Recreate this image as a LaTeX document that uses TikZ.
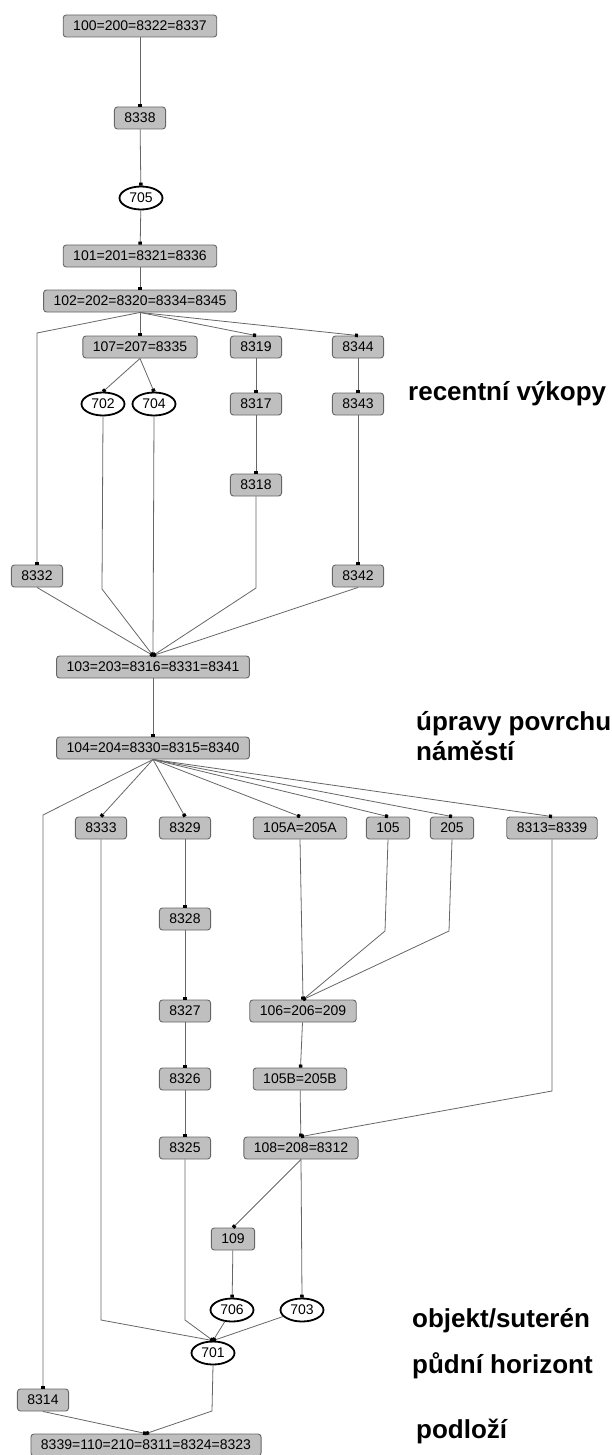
\documentclass[tikz,border=0pt]{standalone}
\usepackage{fontspec}
\setmainfont{Liberation Sans}
\usetikzlibrary{positioning,arrows.meta,shapes.geometric}

\begin{document}
\begin{tikzpicture}[
  x=1pt, y=-1pt,
  unit/.style={rectangle, draw=black!60, line width=0.9pt, rounded corners=3pt, fill=black!25, minimum height=22pt, inner xsep=10pt, inner ysep=0pt, font=\fontsize{14}{16}\selectfont},
  pit/.style={ellipse, draw=black, line width=1.8pt, fill=white, minimum width=43pt, minimum height=23pt, inner sep=0pt, font=\fontsize{14}{16}\selectfont},
  link/.style={draw=black!60, line width=0.8pt, -{Square[length=3pt,width=3.5pt,black]}},
  layer/.style={anchor=base west, inner sep=0pt, font=\fontsize{26}{30}\bfseries}
]
\useasboundingbox (0,0) rectangle (612,1455);

% Top chain
\node[unit] (n100) at (140,26) {100=200=8322=8337};
\node[unit] (n8338) at (140,118) {8338};
\node[pit] (o705) at (141,198) {705};
\node[unit] (n101) at (140,256) {101=201=8321=8336};
\node[unit] (n102) at (140,301) {102=202=8320=8334=8345};

% Recent pits
\node[unit] (n107) at (140,347) {107=207=8335};
\node[unit] (n8319) at (256,347) {8319};
\node[unit] (n8344) at (358,347) {8344};
\node[pit] (o702) at (103,404) {702};
\node[pit] (o704) at (154,404) {704};
\node[unit] (n8317) at (256,404) {8317};
\node[unit] (n8343) at (358,404) {8343};
\node[unit] (n8318) at (256,485) {8318};
\node[unit] (n8332) at (37,576) {8332};
\node[unit] (n8342) at (358,576) {8342};

% Square surface
\node[unit] (n103) at (153,667) {103=203=8316=8331=8341};
\node[unit] (n104) at (153,748) {104=204=8330=8315=8340};
\node[unit] (n8333) at (101,828) {8333};
\node[unit] (n8329) at (185,828) {8329};
\node[unit] (n105A) at (300,828) {105A=205A};
\node[unit] (n105) at (388,828) {105};
\node[unit] (n205) at (452,828) {205};
\node[unit] (n8313) at (552,828) {8313=8339};
\node[unit] (n8328) at (185,919) {8328};
\node[unit] (n8327) at (185,1011) {8327};
\node[unit] (n106) at (303,1011) {106=206=209};
\node[unit] (n8326) at (185,1079) {8326};
\node[unit] (n105B) at (300,1079) {105B=205B};
\node[unit] (n8325) at (185,1148) {8325};
\node[unit] (n108) at (301,1148) {108=208=8312};

% Cellar, soil and subsoil
\node[unit] (n109) at (233,1239) {109};
\node[pit] (o706) at (232,1310) {706};
\node[pit] (o703) at (302,1310) {703};
\node[pit] (o701) at (213,1353) {701};
\node[unit] (n8314) at (43,1400) {8314};
\node[unit] (n8339) at (146,1445) {8339=110=210=8311=8324=8323};

% Layer labels
\node[layer] (recent) at (408,400) {recentní výkopy};
\node[layer] (upravy) at (416,730) {úpravy povrchu};
\node[layer] (namesti) at (416,760) {náměstí};
\node[layer] (objekt) at (412,1327) {objekt/suterén};
\node[layer] (pudni) at (412,1373) {půdní horizont};
\node[layer] (podlozi) at (416,1438) {podloží};

% Connectors - top
\draw[link] (n100) -- (n8338);
\draw[link] (n8338) -- (o705);
\draw[link] (o705) -- (n101);
\draw[link] (n101) -- (n102);
\draw[link] (n102.south) -- (37,333) -- (n8332.north);
\draw[link] (n102.south) -- (n107.north);
\draw[link] (n102.south) -- (n8319.north);
\draw[link] (n102.south) -- (n8344.north);
\draw[link] (n107.south) -- (o702.north);
\draw[link] (n107.south) -- (o704.north);
\draw[link] (n8319) -- (n8317);
\draw[link] (n8317) -- (n8318);
\draw[link] (n8344) -- (n8343);
\draw[link] (n8343) -- (n8342);

% Connectors - into 103
\draw[link] (n8332.south) -- (n103.north);
\draw[link] (o702.south) -- (102,589) -- (n103.north);
\draw[link] (o704.south) -- (n103.north);
\draw[link] (n8318.south) -- (256,588) -- (n103.north);
\draw[link] (n8342.south) -- (n103.north);
\draw[link] (n103) -- (n104);

% Connectors - from 104
\draw[link] (n104.south) -- (43,815) -- (n8314.north);
\draw[link] (n104.south) -- (n8333.north);
\draw[link] (n104.south) -- (n8329.north);
\draw[link] (n104.south) -- (n105A.north);
\draw[link] (n104.south) -- (n105.north);
\draw[link] (n104.south) -- (n205.north);
\draw[link] (n104.south) -- (n8313.north);
\draw[link] (n8329) -- (n8328);
\draw[link] (n8328) -- (n8327);
\draw[link] (n8327) -- (n8326);
\draw[link] (n8326) -- (n8325);
\draw[link] (n105A.south) -- (n106.north);
\draw[link] (n105.south) -- (385,931) -- (n106.north);
\draw[link] (n205.south) -- (449,931) -- (n106.north);
\draw[link] (n106) -- (n105B);
\draw[link] (n105B) -- (n108);
\draw[link] (n8313.south) -- (552,1091) -- (n108.north);

% Connectors - bottom
\draw[link] (n108.south) -- (n109.north);
\draw[link] (n108.south) -- (o703.north);
\draw[link] (n109) -- (o706);
\draw[link] (n8333.south) -- (101,1320) -- (o701.north);
\draw[link] (n8325.south) -- (185,1320) -- (o701.north);
\draw[link] (o706) -- (o701.north);
\draw[link] (o703) -- (o701.north);
\draw[link] (o701.south) -- (212,1411) -- (n8339.north);
\draw[link] (n8314.south) -- (n8339.north);

\end{tikzpicture}
\end{document}
